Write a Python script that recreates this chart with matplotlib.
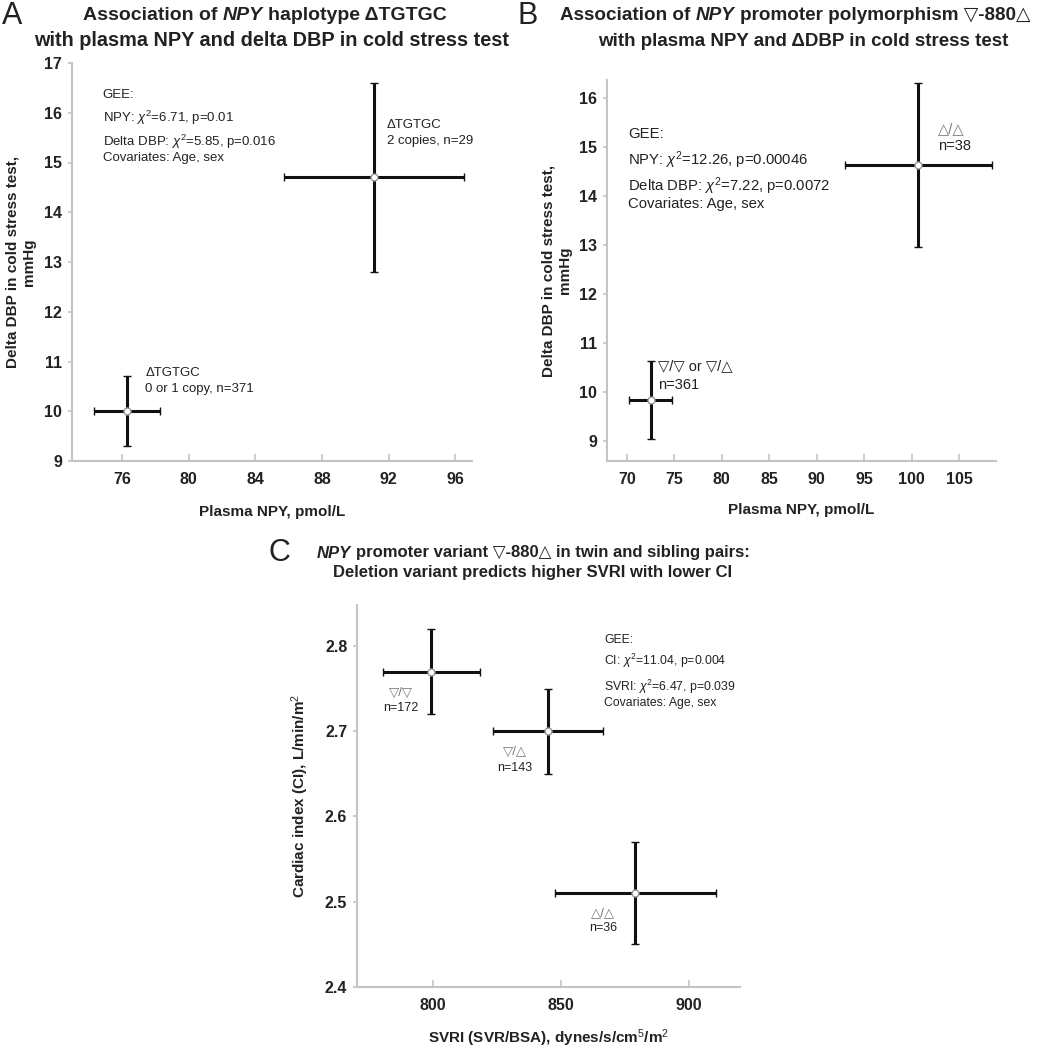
import matplotlib
matplotlib.use("Agg")
import matplotlib.pyplot as plt

plt.rcParams['font.family'] = ['Liberation Sans', 'DejaVu Sans']
plt.rcParams['mathtext.fontset'] = 'custom'
plt.rcParams['mathtext.rm'] = 'Liberation Sans'
plt.rcParams['mathtext.it'] = 'Liberation Sans:italic'
plt.rcParams['mathtext.bf'] = 'Liberation Sans:bold'

# ---------------- data ----------------
# Panel A
a_x = [76.3, 91.1]
a_y = [10.0, 14.7]
a_xerr = [2.0, 5.4]
a_yerr = [0.7, 1.9]
a_xticks = [76, 80, 84, 88, 92, 96]
a_yticks = [9, 10, 11, 12, 13, 14, 15, 16, 17]

# Panel B
b_x = [72.5, 100.7]
b_y = [9.84, 14.63]
b_xerr = [2.3, 7.75]
b_yerr = [0.79, 1.67]
b_xticks = [70, 75, 80, 85, 90, 95, 100, 105]
b_yticks = [9, 10, 11, 12, 13, 14, 15, 16]

# Panel C
c_x = [799.3, 845.0, 879.0]
c_y = [2.77, 2.70, 2.51]
c_xerr = [19.0, 21.5, 31.5]
c_yerr = [0.05, 0.05, 0.06]
c_xticks = [800, 850, 900]
c_yticks = [2.4, 2.5, 2.6, 2.7, 2.8]
c_ytick_labels = ['2.4', '2.5', '2.6', '2.7', '2.8']

W, H = 1050, 1049
fig = plt.figure(figsize=(W / 100, H / 100), dpi=100)
fig.patch.set_facecolor('white')

SPINE = '#c4c4c4'
TXT = '#222222'
GRAY = '#777777'


def px_axes(l, t, r, b):
    return fig.add_axes([l / W, 1 - b / H, (r - l) / W, (b - t) / H])


def style(ax, l, t, r, b, xlab_y, ylab_x):
    for s in ['top', 'right']:
        ax.spines[s].set_visible(False)
    for s in ['left', 'bottom']:
        ax.spines[s].set_color(SPINE)
        ax.spines[s].set_linewidth(1.5)
    ax.tick_params(axis='x', direction='in', length=5, color=SPINE, width=1.2,
                   labelsize=11.5, pad=7.7)
    ax.tick_params(axis='y', direction='out', length=3, color=SPINE, width=1.2,
                   labelsize=11.5, pad=4)
    for lab in ax.get_xticklabels() + ax.get_yticklabels():
        lab.set_fontweight('bold')
        lab.set_color(TXT)
    ax.xaxis.set_label_coords(0.5, (b - xlab_y) / (b - t))
    ax.xaxis.label.set_va('center')
    ax.yaxis.set_label_coords((ylab_x - l) / (r - l), 0.5)
    ax.yaxis.label.set_va('center')


def bars(ax, x, y, xe, ye):
    ax.errorbar(x, y, xerr=xe, yerr=ye, fmt='o', color='black', ecolor='#111111',
                elinewidth=2.2, capsize=2.6, capthick=2.0, mfc='white', mec='#999999',
                ms=5, mew=1.0, zorder=3)


renderer = fig.canvas.get_renderer()


def rich(x_px, y_px, parts, size, weight='bold', color=TXT):
    """Centered line made of (text, style) parts separated by spaces."""
    objs = []
    sp = fig.text(0, 0, 'a a', fontsize=size, fontweight=weight)
    sp2 = fig.text(0, 0, 'aa', fontsize=size, fontweight=weight)
    spw = sp.get_window_extent(renderer).width - sp2.get_window_extent(renderer).width
    sp.remove(); sp2.remove()
    widths = []
    for txt, st in parts:
        t = fig.text(0, 0, txt, fontsize=size, fontweight=weight, fontstyle=st,
                     color=color, va='center', ha='left')
        widths.append(t.get_window_extent(renderer).width)
        objs.append(t)
    total = sum(widths) + spw * (len(parts) - 1)
    x0 = x_px - total / 2
    for t, w in zip(objs, widths):
        t.set_position((x0 / W, 1 - y_px / H))
        x0 += w + spw
    return objs


def ftext(x_px, y_px, s, size, **kw):
    fig.text(x_px / W, 1 - y_px / H, s, fontsize=size, **kw)


# ---------------- Panel A ----------------
A = (72, 63, 472, 461)
axA = px_axes(*A)
bars(axA, a_x, a_y, a_xerr, a_yerr)
axA.set_xlim(73.0, 97.0)
axA.set_ylim(9, 17)
axA.set_xticks(a_xticks)
axA.set_yticks(a_yticks)
axA.set_xlabel('Plasma NPY, pmol/L', fontsize=11, fontweight='bold', color=TXT)
axA.set_ylabel('Delta DBP in cold stress test,\nmmHg', fontsize=11, fontweight='bold',
               color=TXT)
style(axA, *A, xlab_y=512, ylab_x=21)
for yy, s in [(16.36, 'GEE:'), (15.89, 'NPY: $\\chi^2$=6.71, p=0.01'),
              (15.41, 'Delta DBP: $\\chi^2$=5.85, p=0.016'), (15.10, 'Covariates: Age, sex')]:
    axA.text(74.85, yy, s, fontsize=9.5, color=TXT, va='center', ha='left')
axA.text(91.9, 15.75, 'ΔTGTGC', fontsize=9.5, color=TXT, va='center')
axA.text(91.9, 15.43, '2 copies, n=29', fontsize=9.5, color=TXT, va='center')
axA.text(77.4, 10.76, 'ΔTGTGC', fontsize=9.5, color=TXT, va='center')
axA.text(77.4, 10.44, '0 or 1 copy, n=371', fontsize=9.5, color=TXT, va='center')

# ---------------- Panel B ----------------
B = (607, 80, 996, 461)
axB = px_axes(*B)
bars(axB, b_x, b_y, b_xerr, b_yerr)
axB.set_xlim(67.9, 108.9)
axB.set_ylim(8.6, 16.37)
axB.set_xticks(b_xticks)
axB.set_yticks(b_yticks)
axB.set_xlabel('Plasma NPY, pmol/L', fontsize=11, fontweight='bold', color=TXT)
axB.set_ylabel('Delta DBP in cold stress test,\nmmHg', fontsize=11, fontweight='bold',
               color=TXT)
style(axB, *B, xlab_y=510, ylab_x=557)
for yy, s in [(15.26, 'GEE:'), (14.74, 'NPY: $\\chi^2$=12.26, p=0.00046'),
              (14.21, 'Delta DBP: $\\chi^2$=7.22, p=0.0072'), (13.84, 'Covariates: Age, sex')]:
    axB.text(70.1, yy, s, fontsize=10.7, color=TXT, va='center', ha='left')
axB.text(102.8, 15.36, '△/△', fontsize=10.5, color=GRAY, va='center')
axB.text(102.8, 15.02, 'n=38', fontsize=10.5, color=TXT, va='center')
axB.text(73.3, 10.53, '▽/▽ or ▽/△', fontsize=10.5, color=TXT, va='center')
axB.text(73.3, 10.16, 'n=361', fontsize=10.5, color=TXT, va='center')

# ---------------- Panel C ----------------
C = (357, 605, 740, 987)
axC = px_axes(*C)
bars(axC, c_x, c_y, c_xerr, c_yerr)
axC.set_xlim(770.3, 920)
axC.set_ylim(2.4, 2.848)
axC.set_xticks(c_xticks)
axC.set_yticks(c_yticks)
axC.set_yticklabels(c_ytick_labels)
axC.set_xlabel('SVRI (SVR/BSA), dynes/s/cm$^5$/m$^2$', fontsize=11, fontweight='bold',
               color=TXT)
axC.set_ylabel('Cardiac index (CI), L/min/m$^2$', fontsize=11, fontweight='bold',
               color=TXT)
style(axC, *C, xlab_y=1038, ylab_x=300)
for yy, s in [(2.807, 'GEE:'), (2.782, 'CI: $\\chi^2$=11.04, p=0.004'),
              (2.752, 'SVRI: $\\chi^2$=6.47, p=0.039'), (2.733, 'Covariates: Age, sex')]:
    axC.text(866.8, yy, s, fontsize=8.8, color=TXT, va='center', ha='left')
for xx, yg, yn, g, n in [(787.5, 2.745, 2.727, '▽/▽', 'n=172'),
                         (832.0, 2.676, 2.657, '▽/△', 'n=143'),
                         (866.4, 2.486, 2.469, '△/△', 'n=36')]:
    axC.text(xx, yg, g, fontsize=9.5, color=GRAY, va='center', ha='center')
    axC.text(xx, yn, n, fontsize=9, color=TXT, va='center', ha='center')

# ---------------- Titles ----------------
ftext(2, 16, 'A', 22, ha='left', va='center', color=TXT)
ftext(518, 16, 'B', 22, ha='left', va='center', color=TXT)
ftext(268, 553, 'C', 22, ha='left', va='center', color=TXT)

rich(265, 16, [('Association of', 'normal'), ('NPY', 'italic'), ('haplotype ΔTGTGC', 'normal')], 14)
rich(272, 41, [('with plasma NPY and delta DBP in cold stress test', 'normal')], 14.3)
rich(795, 16, [('Association of', 'normal'), ('NPY', 'italic'),
               ('promoter polymorphism ▽-880△', 'normal')], 13.6)
rich(803, 41, [('with plasma NPY and ΔDBP in cold stress test', 'normal')], 13.5)
rich(533, 553, [('NPY', 'italic'), ('promoter variant ▽-880△ in twin and sibling pairs:', 'normal')], 12)
rich(533, 573, [('Deletion variant predicts higher SVRI with lower CI', 'normal')], 12)

fig.savefig('out.png', dpi=100, facecolor='white')
